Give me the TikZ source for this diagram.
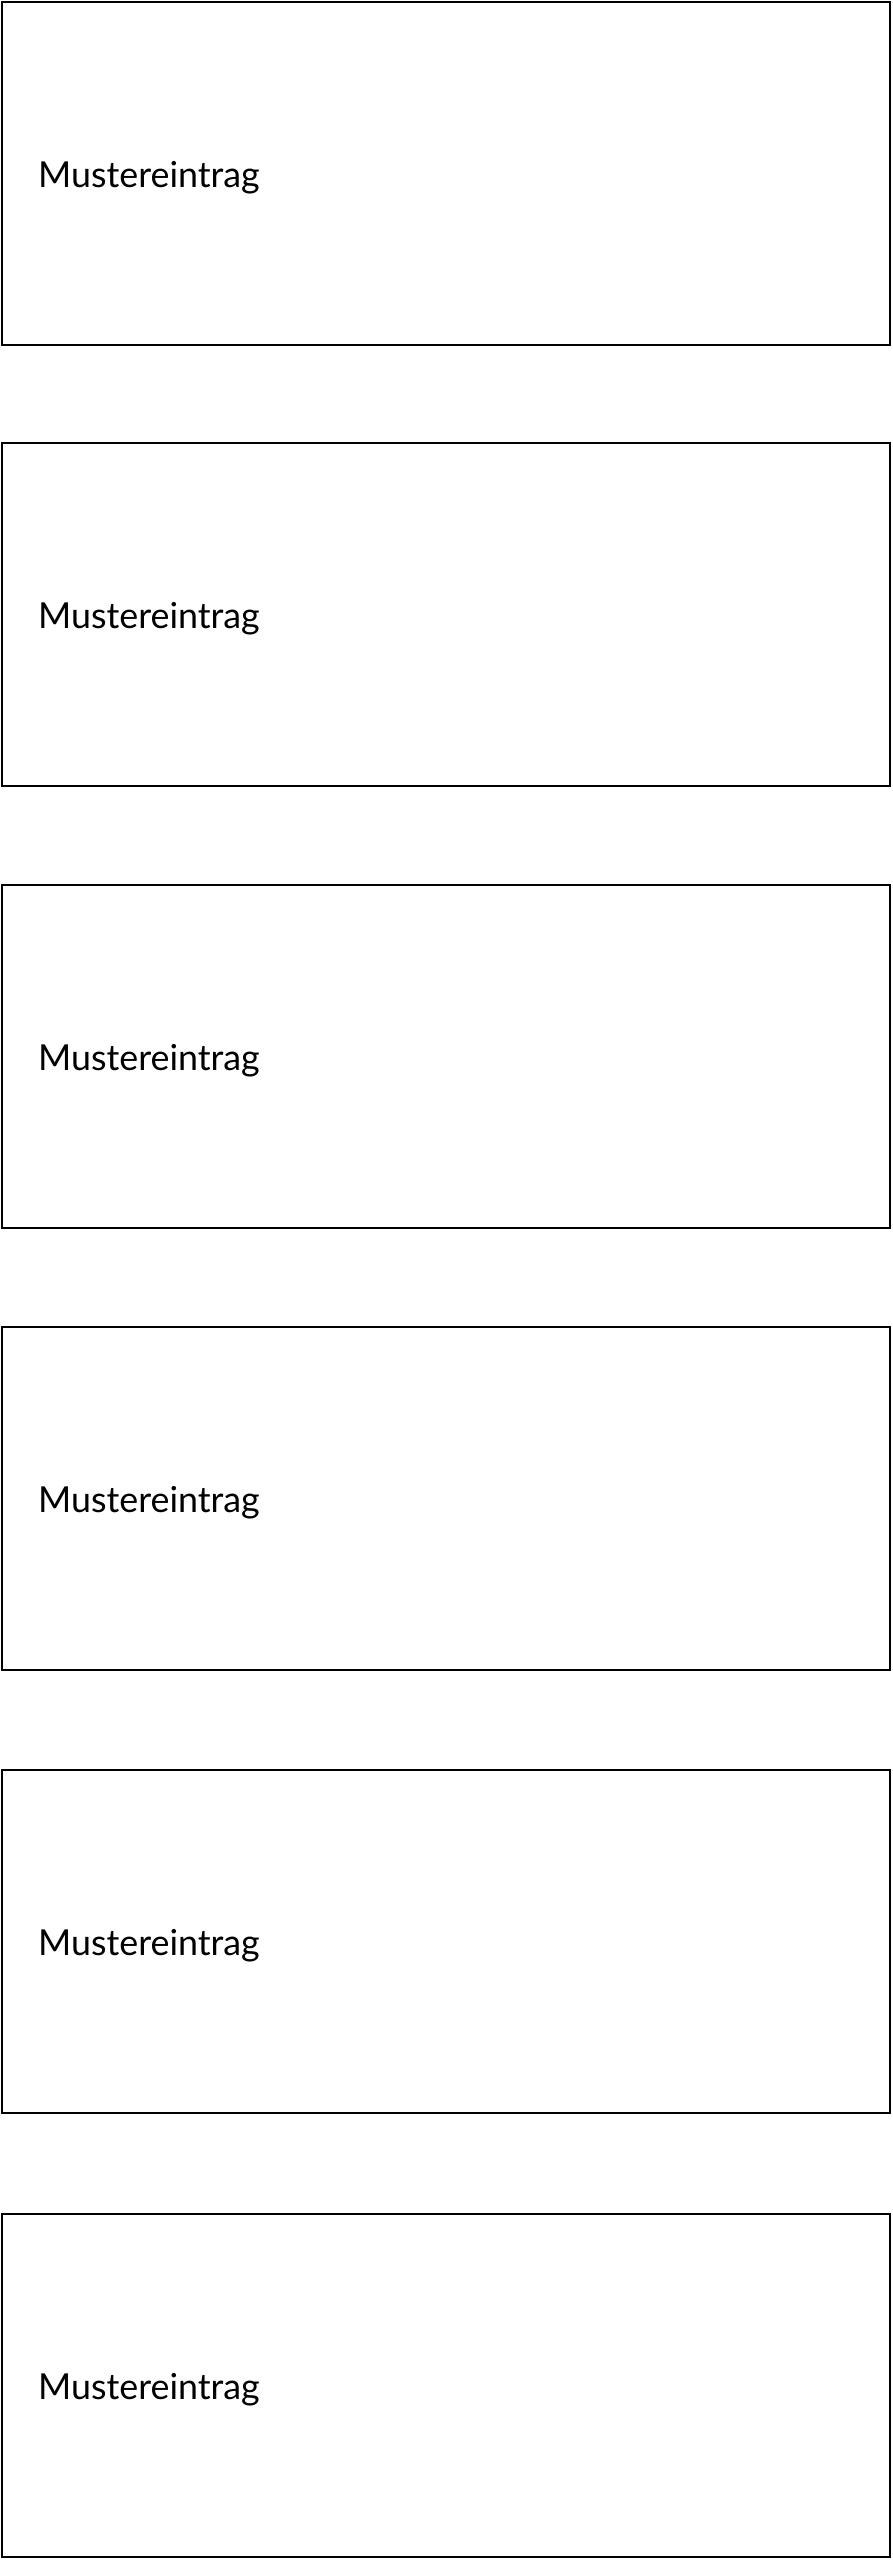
\documentclass[tikz,border=0pt]{standalone}
\usepackage{fontspec}
\setmainfont{Lato}
\begin{document}
\begin{tikzpicture}[x=1pt,y=-1pt,
  entrybox/.style={draw=black,line width=1.6pt,fill=white,rectangle,anchor=north west,
    minimum width=888pt,minimum height=343pt,inner sep=0pt,outer sep=0pt},
  entrylabel/.style={anchor=base west,inner sep=0pt,font=\fontsize{35.8}{43}\selectfont}]
\useasboundingbox (0,0) rectangle (893,2560);
\foreach \i/\t in {1/2,2/443,3/885,4/1327,5/1770,6/2214}{
  \node[entrybox] (box\i) at (2,\t) {};
  \node[entrylabel] (label\i) at (38,\t+185) {Mustereintrag};
}
\end{tikzpicture}
\end{document}
